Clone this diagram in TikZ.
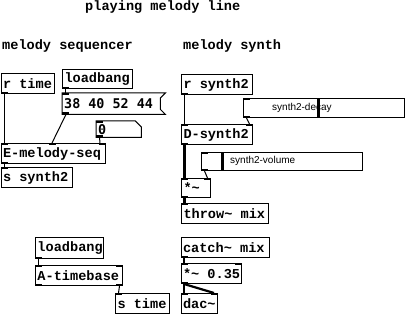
\documentclass[tikz,border=0pt]{standalone}
\usepackage{fontspec}
\setmonofont{Liberation Mono}[WordSpace={1,0,0}]
\newfontfamily\slabel{Liberation Sans}
\newfontfamily\msgmono{DejaVu Sans Mono}[WordSpace={1,0,0}]
\usetikzlibrary{calc}
% left-aligned box content of a fixed width
\newcommand\pdw[2]{\makebox[#1][l]{#2}}
\begin{document}
\begin{tikzpicture}[x=1pt,y=-1pt,
  pdfont/.style={font=\ttfamily\bfseries\fontsize{13.6}{14}\selectfont},
  msgfont/.style={font=\msgmono\bfseries\fontsize{13.4}{14}\selectfont},
  obj/.style={draw,line width=1pt,anchor=north west,inner xsep=2pt,inner ysep=0pt,pdfont},
  bare/.style={anchor=north west,inner xsep=2pt,inner ysep=0pt,msgfont},
  hdr/.style={anchor=west,inner sep=0pt,pdfont},
  slider/.style={draw,line width=1pt,anchor=north west,inner sep=0pt},
  knob/.style={fill=black},
  slbl/.style={anchor=west,inner sep=0pt,font=\slabel\fontsize{10}{11}\selectfont},
  ctl/.style={line width=1pt},
  sig/.style={line width=2.2pt},
  port/.style={fill=black}
]
\useasboundingbox (0,0) rectangle (405,315);
\fill[white] (0,0) rectangle (405,315);

% headings
\node[hdr] (title) at (85,7) {playing melody line};
\node[hdr] (hseq) at (2,46) {melody sequencer};
\node[hdr] (hsyn) at (183,46) {melody synth};

% ---- melody sequencer ----
\node[obj,minimum height=20pt] (rtime) at (0.5,73) {\pdw{49pt}{r time}};
\node[obj,minimum height=19pt] (lb1) at (62,69) {\pdw{66pt}{loadbang}};
\node[bare,minimum height=21pt] (msg) at (62,93) {\pdw{96pt}{38 40 52 44}};
\draw[line width=1pt] (msg.north west) -- ($(msg.north east)+(3,0)$) -- ($(msg.north east)+(-2,5)$)
  -- ($(msg.south east)+(-2,-5)$) -- ($(msg.south east)+(3,0)$) -- (msg.south west) -- cycle;
\node[bare,minimum height=16pt] (num0) at (96,121) {\pdw{41pt}{0}};
\draw[line width=1pt] (num0.north west) -- ($(num0.north east)+(-6,0)$) -- ($(num0.north east)+(0,6)$)
  -- (num0.south east) -- (num0.south west) -- cycle;
\node[obj,minimum height=20pt] (eseq) at (0.5,143) {\pdw{100pt}{E-melody-seq}};
\node[obj,minimum height=20pt] (ssyn) at (0.5,167) {\pdw{67pt}{s synth2}};

% ---- melody synth ----
\node[obj,minimum height=20pt] (rsyn) at (181,74) {\pdw{67pt}{r synth2}};
\node[slider,minimum width=161pt,minimum height=19pt] (decay) at (243,98) {};
\node[slbl] (decaylbl) at (272,107.5) {synth2-decay};
\fill[knob] (316.5,98) rectangle (319.5,117);
\node[obj,minimum height=20pt] (dsyn) at (181,124) {\pdw{67pt}{D-synth2}};
\node[slider,minimum width=161pt,minimum height=18pt] (vol) at (201,152) {};
\fill[knob] (221,152) rectangle (224,170);
\node[slbl] (vollbl) at (230,161) {synth2-volume};
\node[obj,minimum height=19pt] (mul) at (181,178) {\pdw{25pt}{*\char`\~}};
\node[obj,minimum height=20pt] (throw) at (181,203) {\pdw{83pt}{throw\char`\~{} mix}};

\node[obj,minimum height=20pt] (catch) at (180.5,237) {\pdw{84pt}{catch\char`\~{} mix}};
\node[obj,minimum height=20pt] (mul2) at (180.5,263) {\pdw{56pt}{*\char`\~{} 0.35}};
\node[obj,minimum height=20pt] (dac) at (180.5,293) {\pdw{32pt}{dac\char`\~}};

% ---- timebase ----
\node[obj,minimum height=21pt] (lb2) at (35,237) {\pdw{64pt}{loadbang}};
\node[obj,minimum height=20pt] (atb) at (35,265) {\pdw{83pt}{A-timebase}};
\node[obj,minimum height=20pt] (stime) at (115,293) {\pdw{50pt}{s time}};

% ---- inlets and outlets ----
\foreach \n in {msg,num0,eseq,ssyn,decay,dsyn,vol,mul,throw,mul2,dac,atb,stime}
  \fill[port] (\n.north west) rectangle ++(7,2);
\foreach \n in {eseq,dsyn,mul,mul2,dac,atb}
  \fill[port] (\n.north east) rectangle ++(-7,2);
\fill[port] ($(eseq.north west)+(48.5,0)$) rectangle ++(7,2);
\foreach \n in {rtime,lb1,msg,num0,eseq,rsyn,decay,dsyn,vol,mul,catch,mul2,lb2,atb}
  \fill[port] (\n.south west) rectangle ++(7,-2);
\fill[port] (atb.south east) rectangle ++(-7,-2);

% ---- connections ----
\draw[ctl] ($(rtime.south west)+(3.5,0)$) -- ($(eseq.north west)+(3.5,0)$);
\draw[ctl] ($(lb1.south west)+(3.5,0)$) -- ($(msg.north west)+(3.5,0)$);
\draw[ctl] ($(msg.south west)+(4,0)$) -- ($(eseq.north west)+(51.5,0)$);
\draw[ctl] ($(num0.south west)+(3.5,0)$) -- ($(eseq.north east)+(-5.5,0)$);
\draw[ctl] ($(eseq.south west)+(3.5,0)$) -- ($(ssyn.north west)+(3.5,0)$);

\draw[ctl] ($(rsyn.south west)+(3.5,0)$) -- ($(dsyn.north west)+(3.5,0)$);
\draw[ctl] ($(decay.south west)+(3.5,0)$) -- ($(dsyn.north east)+(-3.5,0)$);
\draw[sig] ($(dsyn.south west)+(3.5,0)$) -- ($(mul.north west)+(3.5,0)$);
\draw[ctl] ($(vol.south west)+(3.5,0)$) -- ($(mul.north east)+(-3.5,0)$);
\draw[sig] ($(mul.south west)+(3.5,0)$) -- ($(throw.north west)+(3.5,0)$);

\draw[sig] ($(catch.south west)+(3.5,0)$) -- ($(mul2.north west)+(3.5,0)$);
\draw[sig] ($(mul2.south west)+(3.5,0)$) -- ($(dac.north west)+(3.5,0)$);
\draw[sig] ($(mul2.south west)+(3.5,0)$) -- ($(dac.north east)+(-3.5,0)$);

\draw[ctl] ($(lb2.south west)+(3.5,0)$) -- ($(atb.north west)+(3.5,0)$);
\draw[ctl] ($(atb.south east)+(-3.5,0)$) -- ($(stime.north west)+(3.5,0)$);
\end{tikzpicture}
\end{document}
